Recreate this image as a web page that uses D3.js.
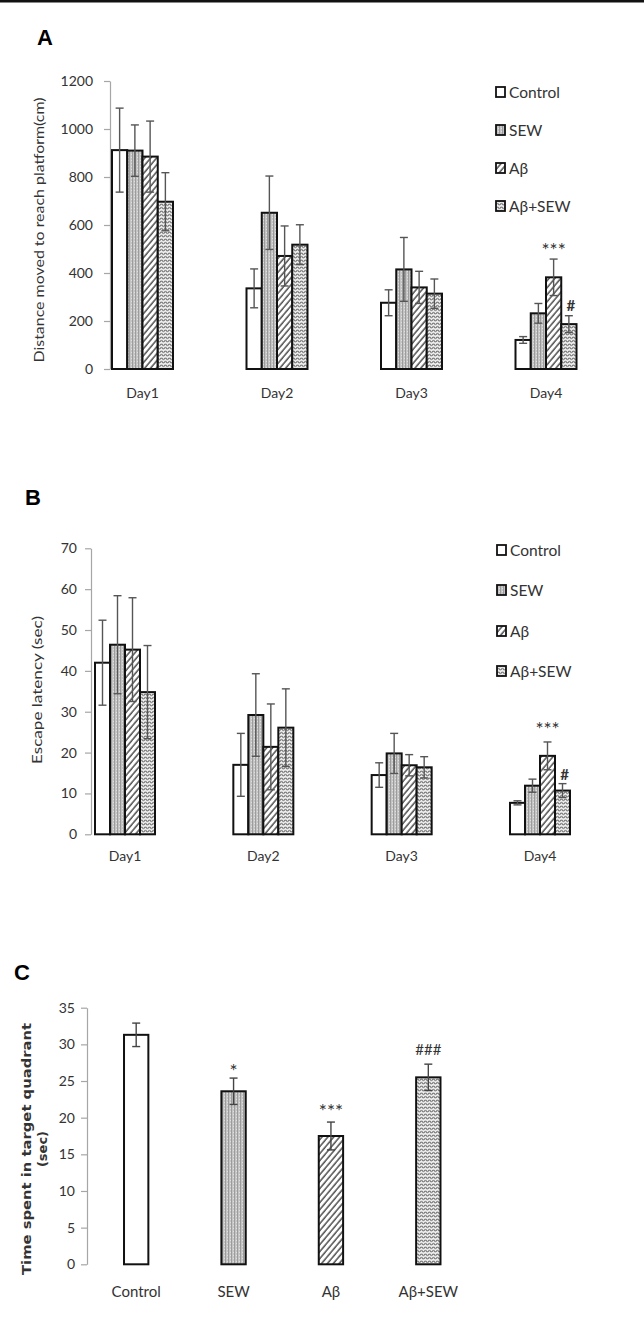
<!DOCTYPE html>
<html>
<head>
<meta charset="utf-8">
<script src="https://cdn.jsdelivr.net/npm/d3@7"></script>
<style>
  body { margin: 0; background: #fff; }
  svg text { font-family: Lato, "Open Sans", sans-serif; fill: #333; }
  .axis path, .axis line { stroke: #a6a6a6; stroke-width: 1.2; }
  .axis text { font-size: 14px; fill: #333; }
  .panel { font-family: "Liberation Sans", Arial, sans-serif !important; font-weight: bold; font-size: 22px; fill: #000 !important; }
</style>
</head>
<body>
<div id="chart"></div>
<script>
// ---- data ----
const days = ["Day1", "Day2", "Day3", "Day4"];
const groups = ["Control", "SEW", "Aβ", "Aβ+SEW"];

// panel A: distance moved (cm)
const distCtrl = [912, 336, 276, 121];
const distSew  = [910, 651, 415, 232];
const distAb   = [885, 471, 340, 382];
const distAbS  = [697, 518, 314, 187];
const distCtrlErr = [175, 81, 54, 14];
const distSewErr  = [107, 153, 133, 41];
const distAbErr   = [148, 125, 67, 76];
const distAbSErr  = [121, 83, 61, 35];
const distTicks = [0, 200, 400, 600, 800, 1000, 1200];

// panel B: escape latency (sec)
const latCtrl = [42.0, 17.0, 14.5, 7.7];
const latSew  = [46.4, 29.2, 19.8, 11.9];
const latAb   = [45.2, 21.4, 16.9, 19.2];
const latAbS  = [34.8, 26.1, 16.4, 10.7];
const latCtrlErr = [10.4, 7.7, 3.0, 0.5];
const latSewErr  = [12.0, 10.1, 4.9, 1.6];
const latAbErr   = [12.7, 10.5, 2.6, 3.4];
const latAbSErr  = [11.4, 9.5, 2.6, 1.7];
const latTicks = [0, 10, 20, 30, 40, 50, 60, 70];

// panel C: time in target quadrant (sec)
const quadMean = [31.3, 23.6, 17.5, 25.5];
const quadErr  = [1.6, 1.8, 1.9, 1.8];
const quadTicks = [0, 5, 10, 15, 20, 25, 30, 35];

// significance marks
const distMarks = [{day: "Day4", group: "Aβ", text: "***"}, {day: "Day4", group: "Aβ+SEW", text: "#"}];
const latMarks  = [{day: "Day4", group: "Aβ", text: "***"}, {day: "Day4", group: "Aβ+SEW", text: "#"}];
const quadMarks = [{group: "SEW", text: "*"}, {group: "Aβ", text: "***"}, {group: "Aβ+SEW", text: "###"}];

const W = 644, H = 1335;
const svg = d3.select("#chart").append("svg").attr("width", W).attr("height", H);

// top rule
svg.append("rect").attr("x", 0).attr("y", 0).attr("width", W).attr("height", 2.5).attr("fill", "#111");

// ---- fill patterns ----
const defs = svg.append("defs");
let p = defs.append("pattern").attr("id", "pSew").attr("patternUnits", "userSpaceOnUse").attr("width", 3).attr("height", 3);
p.append("rect").attr("width", 3).attr("height", 3).attr("fill", "#c4c4c4");
p.append("rect").attr("x", 0).attr("y", 0).attr("width", 1).attr("height", 3).attr("fill", "#9c9c9c");
p.append("rect").attr("x", 2).attr("y", 1).attr("width", 1).attr("height", 1).attr("fill", "#e0e0e0");

p = defs.append("pattern").attr("id", "pAb").attr("patternUnits", "userSpaceOnUse")
  .attr("width", 4.5).attr("height", 4.5).attr("patternTransform", "rotate(40)");
p.append("rect").attr("width", 4.5).attr("height", 4.5).attr("fill", "#fff");
p.append("line").attr("x1", 1).attr("x2", 1).attr("y1", 0).attr("y2", 4.5).attr("stroke", "#222").attr("stroke-width", 1.2);

p = defs.append("pattern").attr("id", "pAbS").attr("patternUnits", "userSpaceOnUse").attr("width", 4).attr("height", 3.5);
p.append("rect").attr("width", 4).attr("height", 3.5).attr("fill", "#f2f2f2");
p.append("path").attr("d", "M0,2.4 L1,1 L2,1 L3,2.4 L4,2.4").attr("fill", "none").attr("stroke", "#555").attr("stroke-width", 0.9);

const fills = {"Control": "#fff", "SEW": "url(#pSew)", "Aβ": "url(#pAb)", "Aβ+SEW": "url(#pAbS)"};
const isStar = s => s.indexOf("*") >= 0;

function groupedPanel(cfg) {
  const y = d3.scaleLinear().domain(cfg.domain).range(cfg.yRange);
  const x = d3.scalePoint().domain(days).range(cfg.xCenters);
  const xs = d3.scaleBand().domain(groups).range([-cfg.groupW / 2, cfg.groupW / 2]);

  svg.append("g").attr("class", "axis")
    .attr("transform", `translate(${cfg.axisX},0)`)
    .call(d3.axisLeft(y).tickValues(cfg.ticks).tickFormat(d3.format("d"))
      .tickSize(6).tickSizeOuter(0).tickPadding(cfg.pad));

  const rows = [];
  groups.forEach((g, gi) => {
    days.forEach((d, di) => rows.push({day: d, group: g, v: cfg.means[gi][di], e: cfg.errs[gi][di]}));
  });

  svg.append("g").selectAll("rect").data(rows).join("rect")
    .attr("x", d => x(d.day) + xs(d.group))
    .attr("width", xs.bandwidth())
    .attr("y", d => y(d.v))
    .attr("height", d => y(0) - y(d.v))
    .attr("fill", d => fills[d.group])
    .attr("stroke", "#111").attr("stroke-width", 2);

  const eb = svg.append("g").attr("stroke", "#555").attr("stroke-width", 1.4);
  const cx = d => x(d.day) + xs(d.group) + xs.bandwidth() / 2;
  eb.selectAll(".v").data(rows).join("line")
    .attr("x1", cx).attr("x2", cx)
    .attr("y1", d => y(d.v - d.e)).attr("y2", d => y(d.v + d.e));
  eb.selectAll(".t").data(rows).join("line")
    .attr("x1", d => cx(d) - 4).attr("x2", d => cx(d) + 4)
    .attr("y1", d => y(d.v + d.e)).attr("y2", d => y(d.v + d.e));
  eb.selectAll(".b").data(rows).join("line")
    .attr("x1", d => cx(d) - 4).attr("x2", d => cx(d) + 4)
    .attr("y1", d => y(d.v - d.e)).attr("y2", d => y(d.v - d.e));

  // day labels
  svg.append("g").selectAll("text").data(days).join("text")
    .attr("x", d => x(d)).attr("y", cfg.labelY)
    .attr("text-anchor", "middle").attr("font-size", 14).text(d => d);

  // significance
  svg.append("g").selectAll("text").data(cfg.marks).join("text")
    .attr("x", d => x(d.day) + xs(d.group) + xs.bandwidth() / 2 + (isStar(d.text) ? 0 : 2))
    .attr("y", d => {
      const gi = groups.indexOf(d.group), di = days.indexOf(d.day);
      return y(cfg.means[gi][di] + cfg.errs[gi][di]) - (isStar(d.text) ? cfg.starOff : cfg.hashOff);
    })
    .attr("text-anchor", "middle").attr("font-size", d => isStar(d.text) ? 19 : 15)
    .attr("font-weight", d => isStar(d.text) ? "normal" : "bold")
    .text(d => d.text);

  // legend
  const lg = svg.append("g").selectAll("g").data(groups).join("g")
    .attr("transform", (d, i) => `translate(${cfg.legX},${cfg.legY[i]})`);
  lg.append("rect").attr("x", 0).attr("y", -5).attr("width", 9).attr("height", 10)
    .attr("fill", d => fills[d]).attr("stroke", "#111").attr("stroke-width", 1.8);
  lg.append("text").attr("x", 13).attr("y", 5.5).attr("font-size", 15.5).text(d => d);

  // y title
  svg.append("text")
    .attr("transform", `translate(${cfg.titleX},${cfg.titleY}) rotate(-90)`)
    .attr("text-anchor", "middle").attr("font-size", 14)
    .attr("textLength", cfg.titleLen).attr("lengthAdjust", "spacingAndGlyphs")
    .text(cfg.title);

  svg.append("text").attr("class", "panel").attr("x", cfg.panelX).attr("y", cfg.panelY).text(cfg.panel);
}

groupedPanel({
  panel: "A", panelX: 37, panelY: 45,
  domain: [0, 1200], yRange: [369, 81], ticks: distTicks, axisX: 110, pad: 11,
  xCenters: [142.5, 546], groupW: 61,
  means: [distCtrl, distSew, distAb, distAbS], errs: [distCtrlErr, distSewErr, distAbErr, distAbSErr],
  labelY: 398, marks: distMarks, starOff: 2, hashOff: 5,
  legX: 496, legY: [92, 130, 168, 206],
  title: "Distance moved to reach platform(cm)", titleX: 44, titleY: 230, titleLen: 265
});

groupedPanel({
  panel: "B", panelX: 25, panelY: 505,
  domain: [0, 70], yRange: [834.3, 548.3], ticks: latTicks, axisX: 91, pad: 8,
  xCenters: [125, 540], groupW: 60,
  means: [latCtrl, latSew, latAb, latAbS], errs: [latCtrlErr, latSewErr, latAbErr, latAbSErr],
  labelY: 861, marks: latMarks, starOff: 6, hashOff: 4,
  legX: 497, legY: [550, 590, 631, 671],
  title: "Escape latency (sec)", titleX: 42, titleY: 690, titleLen: 148
});

// ---- panel C ----
(function () {
  const y = d3.scaleLinear().domain([0, 35]).range([1264.3, 1007.7]);
  const x = d3.scaleBand().domain(groups).range([87.5, 477]).paddingInner(0.75).paddingOuter(0.375);

  svg.append("g").attr("class", "axis")
    .attr("transform", "translate(87,0)")
    .call(d3.axisLeft(y).tickValues(quadTicks).tickSize(6).tickSizeOuter(0).tickPadding(6))
    .selectAll("text").attr("font-size", 15);

  const rows = groups.map((g, i) => ({group: g, v: quadMean[i], e: quadErr[i]}));
  svg.append("g").selectAll("rect").data(rows).join("rect")
    .attr("x", d => x(d.group)).attr("width", x.bandwidth())
    .attr("y", d => y(d.v)).attr("height", d => y(0) - y(d.v))
    .attr("fill", d => fills[d.group]).attr("stroke", "#111").attr("stroke-width", 2);

  const cx = d => x(d.group) + x.bandwidth() / 2;
  const eb = svg.append("g").attr("stroke", "#444").attr("stroke-width", 1.4);
  eb.selectAll(".v").data(rows).join("line")
    .attr("x1", cx).attr("x2", cx).attr("y1", d => y(d.v - d.e)).attr("y2", d => y(d.v + d.e));
  eb.selectAll(".t").data(rows).join("line")
    .attr("x1", d => cx(d) - 4).attr("x2", d => cx(d) + 4).attr("y1", d => y(d.v + d.e)).attr("y2", d => y(d.v + d.e));
  eb.selectAll(".b").data(rows).join("line")
    .attr("x1", d => cx(d) - 4).attr("x2", d => cx(d) + 4).attr("y1", d => y(d.v - d.e)).attr("y2", d => y(d.v - d.e));

  svg.append("g").selectAll("text").data(groups).join("text")
    .attr("x", d => x(d) + x.bandwidth() / 2).attr("y", 1297)
    .attr("text-anchor", "middle").attr("font-size", 15).text(d => d);

  const offs = {"*": 0, "***": 4, "###": 9};
  svg.append("g").selectAll("text").data(quadMarks).join("text")
    .attr("x", d => x(d.group) + x.bandwidth() / 2)
    .attr("y", d => { const i = groups.indexOf(d.group); return y(quadMean[i] + quadErr[i]) - offs[d.text]; })
    .attr("text-anchor", "middle").attr("font-size", d => isStar(d.text) ? 19 : 15)
    .text(d => d.text);

  const t = svg.append("g").attr("transform", "translate(31,1149) rotate(-90)");
  t.append("text").attr("text-anchor", "middle").attr("font-size", 13)
    .style("font-family", "'DejaVu Sans', sans-serif").attr("font-weight", "bold")
    .attr("textLength", 252).attr("lengthAdjust", "spacingAndGlyphs")
    .text("Time spent in target quadrant");
  t.append("text").attr("y", 16).attr("text-anchor", "middle").attr("font-size", 13)
    .style("font-family", "'DejaVu Sans', sans-serif").attr("font-weight", "bold")
    .text("(sec)");

  svg.append("text").attr("class", "panel").attr("x", 14).attr("y", 980).text("C");
})();
</script>
</body>
</html>
